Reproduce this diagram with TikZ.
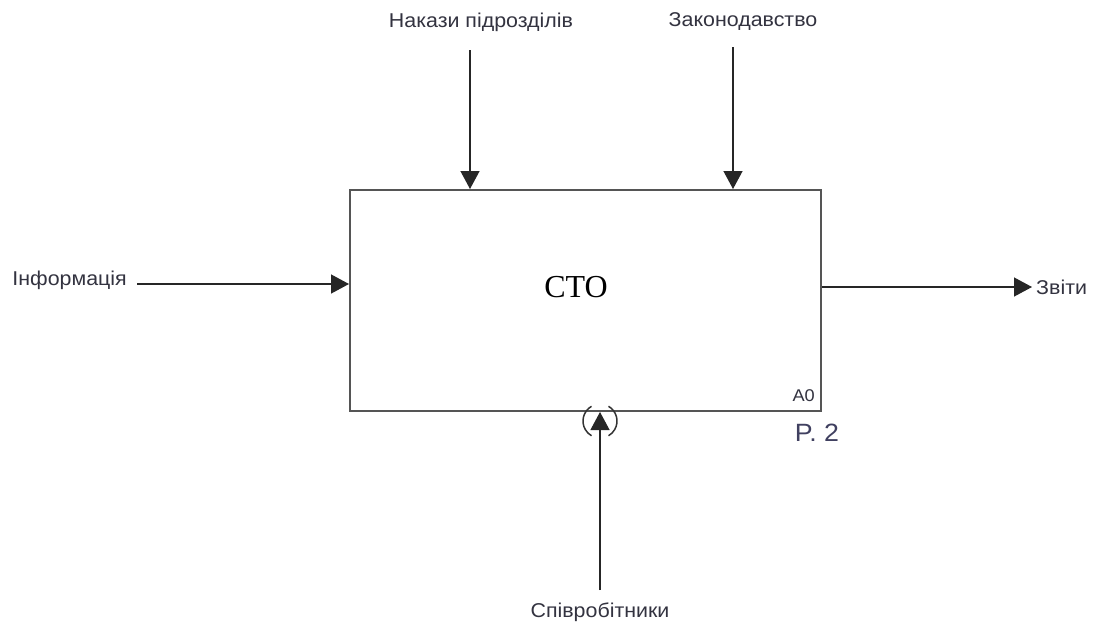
\documentclass[tikz,border=0pt]{standalone}
\usepackage{fontspec}
\setmainfont{Liberation Serif}
\newfontfamily\lab[FakeStretch=1.07]{Liberation Sans}
\usetikzlibrary{arrows.meta}
\definecolor{txt}{HTML}{333340}
\definecolor{ptxt}{HTML}{404060}
\definecolor{boxc}{HTML}{555555}
\tikzset{
  lbl/.style={font=\lab\fontsize{20}{22}\selectfont, text=txt, inner sep=0pt},
  flow/.style={draw=black!85, line width=1.3pt, -{Triangle[length=18pt,width=19pt]}},
}
\begin{document}
\begin{tikzpicture}[x=1pt,y=-1pt]
\useasboundingbox (0,0) rectangle (1094,630);
\fill[white] (0,0) rectangle (1094,630);
% box
\node[draw=boxc, line width=2pt, minimum width=471pt, minimum height=221pt, inner sep=0pt, anchor=north west] (box) at (349,189) {};
\node[font=\fontsize{32}{34}\selectfont, text=black, inner sep=0pt] (cto) at (576,287) {CTO};
\node[lbl, font=\lab\fontsize{17}{19}\selectfont, anchor=south east] (a0) at (815,402) {A0};
\node[lbl, font=\lab\fontsize{25}{27}\selectfont, text=ptxt] (p2) at (817,433) {P. 2};
% labels
\node[lbl] (nak) at (481,22) {Накази підрозділів};
\node[lbl] (zak) at (743,22) {Законодавство};
\node[lbl, anchor=east] (inf) at (127,280) {Інформація};
\node[lbl, anchor=west] (zvi) at (1036,287) {Звіти};
\node[lbl] (spi) at (600,612) {Співробітники};
% anchor coordinates
\coordinate (c1s) at (470,50);
\coordinate (c2s) at (733,47);
\coordinate (is) at (137,284);
\coordinate (oe) at (1032,287);
\coordinate (ms) at (600,590);
\draw[flow] (c1s) -- (c1s |- box.north);
\draw[flow] (c2s) -- (c2s |- box.north);
\draw[flow] (is) -- (is -| box.west);
\draw[flow] (oe -| box.east) -- (oe);
\draw[flow] (ms) -- (ms |- box.south);
% tunnel parentheses
\coordinate (tc) at (600,421);
\draw[black!80, line width=1.5pt] ([shift={(-8.5,-14.7)}]tc) arc[start angle=120, end angle=240, radius=17pt];
\draw[black!80, line width=1.5pt] ([shift={(8.5,-14.7)}]tc) arc[start angle=60, end angle=-60, radius=17pt];
\end{tikzpicture}
\end{document}
